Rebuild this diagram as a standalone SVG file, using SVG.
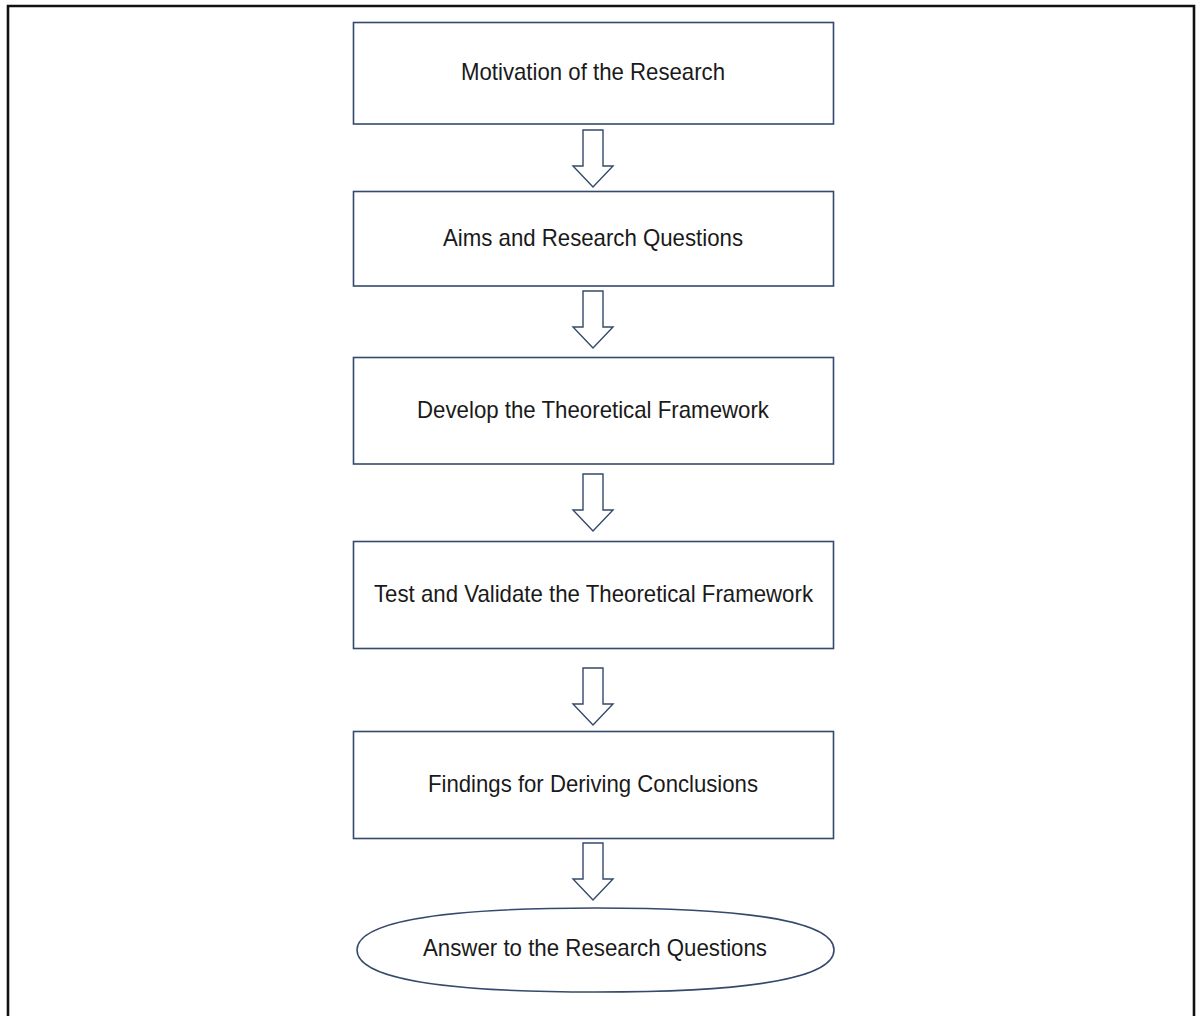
<svg xmlns="http://www.w3.org/2000/svg" width="1197" height="1016" viewBox="0 0 1197 1016">
  <style>
    .box { fill: #ffffff; stroke: #34496b; stroke-width: 1.6; }
    .arrow { fill: #ffffff; stroke: #34496b; stroke-width: 1.4; stroke-linejoin: miter; }
    .label { font-family: "Liberation Sans", Arial, sans-serif; font-size: 24px; fill: #1a1a1a; text-anchor: middle; }
  </style>
  <defs>
    <!-- hollow block arrow pointing down, origin at top centre -->
    <path id="down" d="M -10 0 H 10 V 36 H 20 L 0 57 L -20 36 H -10 Z"/>
  </defs>
  <rect x="0" y="0" width="1197" height="1016" fill="#ffffff"/>
  <!-- page frame -->
  <path d="M 8 1016 V 6 H 1194 V 1016" fill="none" stroke="#111111" stroke-width="2.6"/>

  <g id="n1">
    <rect class="box" x="353.5" y="22.5" width="480" height="101.5"/>
    <text class="label" x="593" y="80" textLength="264" lengthAdjust="spacingAndGlyphs">Motivation of the Research</text>
  </g>
  <g id="n2">
    <rect class="box" x="353.5" y="191.5" width="480" height="94.5"/>
    <text class="label" x="593" y="246" textLength="300" lengthAdjust="spacingAndGlyphs">Aims and Research Questions</text>
  </g>
  <g id="n3">
    <rect class="box" x="353.5" y="357.5" width="480" height="106.5"/>
    <text class="label" x="593" y="418" textLength="352" lengthAdjust="spacingAndGlyphs">Develop the Theoretical Framework</text>
  </g>
  <g id="n4">
    <rect class="box" x="353.5" y="541.5" width="480" height="107"/>
    <text class="label" x="593.5" y="602" textLength="439" lengthAdjust="spacingAndGlyphs">Test and Validate the Theoretical Framework</text>
  </g>
  <g id="n5">
    <rect class="box" x="353.5" y="731.5" width="480" height="107"/>
    <text class="label" x="593" y="792" textLength="330" lengthAdjust="spacingAndGlyphs">Findings for Deriving Conclusions</text>
  </g>
  <g id="n6">
    <!-- flattened oval terminator -->
    <path class="box" d="M 357 950 C 357 924, 428 908, 595.5 908 C 763 908, 834 924, 834 950 C 834 976, 763 992, 595.5 992 C 428 992, 357 976, 357 950 Z"/>
    <text class="label" x="595" y="956" textLength="344" lengthAdjust="spacingAndGlyphs">Answer to the Research Questions</text>
  </g>

  <g id="connectors">
    <use href="#down" class="arrow" x="593" y="130"/>
    <use href="#down" class="arrow" x="593" y="291"/>
    <use href="#down" class="arrow" x="593" y="474"/>
    <use href="#down" class="arrow" x="593" y="668"/>
    <use href="#down" class="arrow" x="593" y="843"/>
  </g>
</svg>
